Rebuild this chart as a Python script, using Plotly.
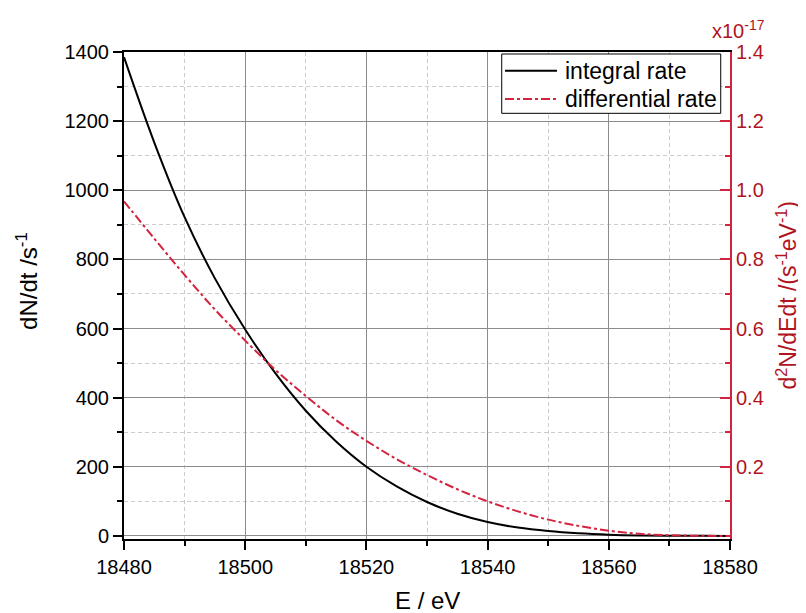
import plotly.graph_objects as go

energy = [18480, 18485, 18490, 18495, 18500, 18505, 18510, 18515, 18520, 18525,
          18530, 18535, 18540, 18545, 18550, 18555, 18560, 18565, 18570, 18575, 18580]
integral_rate = [1385, 1138, 922, 745, 597, 470, 362, 273, 200, 143,
                 98, 64, 40, 24, 14, 7.5, 3.5, 1.3, 0.4, 0.05, 0]
differential_rate = [0.968, 0.86, 0.755, 0.655, 0.565, 0.48, 0.405, 0.335, 0.275, 0.222,
                     0.176, 0.135, 0.100, 0.071, 0.047, 0.029, 0.015, 0.006, 0.002, 0.0003, 0]
y2_ticks = [0.2, 0.4, 0.6, 0.8, 1.0, 1.2, 1.4]
y2_minor = [0.1, 0.3, 0.5, 0.7, 0.9, 1.1, 1.3]
series_names = ["integral rate", "differential rate"]

RED = "#d2233f"
RED_TXT = "#b0141e"
FONT = "Liberation Sans, Arial, sans-serif"
GRID = "#8c8c8c"
MINOR_GRID = "#cccccc"

fig = go.Figure()
fig.add_trace(go.Scatter(x=energy, y=integral_rate, mode="lines", name=series_names[0],
                         line=dict(color="black", width=2), line_shape="spline",
                         showlegend=False))
fig.add_trace(go.Scatter(x=energy, y=differential_rate, mode="lines", name=series_names[1],
                         line=dict(color=RED, width=2, dash="dashdot"), line_shape="spline",
                         yaxis="y2", showlegend=False))

# legend drawn as a framed box (paper coordinates)
box = dict(x0=0.6233, x1=0.9847, y0=0.8741, y1=0.9959)
rows_y = [0.9616, 0.9035]
sample_x = [0.6287, 0.7145]
text_x = 0.7244
shapes = [dict(type="rect", xref="paper", yref="paper", **box,
               line=dict(color="black", width=1), fillcolor="white", layer="above")]
legend_styles = [dict(color="black", width=2), dict(color=RED, width=2, dash="dashdot")]
annotations = []
for name, yy, st in zip(series_names, rows_y, legend_styles):
    shapes.append(dict(type="line", xref="paper", yref="paper", x0=sample_x[0], x1=sample_x[1],
                       y0=yy, y1=yy, line=st, layer="above"))
    annotations.append(dict(text=name, x=text_x, y=yy, xref="paper", yref="paper",
                            xanchor="left", yanchor="middle", showarrow=False,
                            font=dict(size=23, color="black")))

annotations += [
    dict(text="x10<sup>-17</sup>", x=1.0, y=1.0, xref="paper", yref="paper",
         xanchor="left", yanchor="bottom", xshift=-20, yshift=8, showarrow=False,
         font=dict(size=20, color=RED_TXT)),
    dict(text="E / eV", x=0.5, y=0, xref="paper", yref="paper", xanchor="center",
         yanchor="middle", yshift=-61, showarrow=False, font=dict(size=24, color="black")),
    dict(text="dN/dt /s<sup>-1</sup>", x=0, y=0.53, xref="paper", yref="paper",
         xanchor="center", yanchor="middle", xshift=-97, textangle=-90, showarrow=False,
         font=dict(size=24, color="black")),
    dict(text="d<sup>2</sup>N/dEdt /(s<sup>-1</sup>eV<sup>-1</sup>)", x=1, y=0.5,
         xref="paper", yref="paper", xanchor="center", yanchor="middle", xshift=56,
         textangle=-90, showarrow=False, font=dict(size=23, color=RED_TXT)),
]

fig.update_layout(
    width=798, height=605,
    margin=dict(l=116, r=76, t=44, b=74, autoexpand=False),
    paper_bgcolor="white", plot_bgcolor="white",
    font=dict(family=FONT, size=20, color="black"),
    showlegend=False,
    xaxis=dict(range=[18480, 18580], dtick=20, tick0=18480, tickformat="d",
               showline=True, linecolor="black", linewidth=2, mirror=True,
               ticks="outside", ticklen=9, tickwidth=2, tickcolor="black",
               showgrid=True, gridcolor=GRID, gridwidth=1,
               zeroline=False, automargin=False,
               minor=dict(dtick=10, ticks="outside", ticklen=5, tickwidth=2, tickcolor="black",
                          showgrid=True, gridcolor=MINOR_GRID, griddash="4px,3px", gridwidth=1),
               tickfont=dict(size=20)),
    yaxis=dict(range=[-9, 1400], dtick=200, tick0=0,
               showline=True, linecolor="black", linewidth=2,
               ticks="outside", ticklen=9, tickwidth=2, tickcolor="black",
               showgrid=True, gridcolor=GRID, gridwidth=1,
               zeroline=False, automargin=False,
               minor=dict(dtick=100, ticks="outside", ticklen=5, tickwidth=2, tickcolor="black",
                          showgrid=True, gridcolor=MINOR_GRID, griddash="4px,3px", gridwidth=1),
               tickfont=dict(size=20)),
    yaxis2=dict(range=[-0.009, 1.4], overlaying="y", side="right",
                tickvals=y2_ticks, ticktext=[f"{v:.1f}" for v in y2_ticks],
                showline=True, linecolor=RED, linewidth=2,
                ticks="inside", ticklen=10, tickwidth=2, tickcolor=RED,
                showgrid=False, zeroline=False, automargin=False,
                minor=dict(tickvals=y2_minor, ticks="inside",
                           ticklen=5, tickwidth=2, tickcolor=RED, showgrid=False),
                tickfont=dict(size=20, color=RED_TXT)),
    shapes=shapes,
    annotations=annotations,
)

fig.write_html("out.html")
